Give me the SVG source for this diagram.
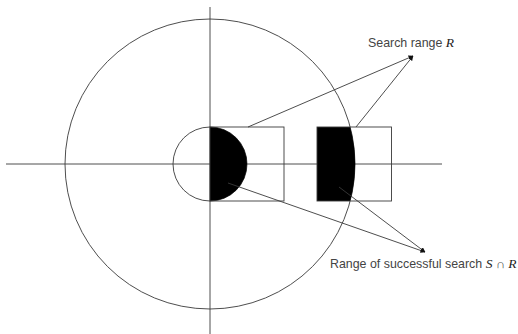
<svg xmlns="http://www.w3.org/2000/svg" width="518" height="334" viewBox="0 0 518 334">
<style>
.ln{stroke:#3a3a3a;stroke-width:0.9;fill:none}
.lbl{font-family:"Liberation Sans","DejaVu Sans",sans-serif;font-size:12.4px;fill:#444}
.m{font-family:"Liberation Serif",serif;font-style:italic;font-size:13.5px;fill:#222}
</style>
<defs>
<marker id="ah" viewBox="0 0 10 10" refX="9" refY="5" markerWidth="5" markerHeight="5" orient="auto" markerUnits="userSpaceOnUse">
<path d="M0,0 L10,5 L0,10 Z" fill="#111"/>
</marker>
</defs>
<rect width="518" height="334" fill="#fff"/>
<g id="axes">
<line class="ln" x1="6" y1="164" x2="442" y2="164"/>
<line class="ln" x1="210" y1="7" x2="210" y2="334"/>
</g>
<g id="outer-circle">
<circle class="ln" cx="210" cy="164" r="145"/>
</g>
<g id="inner-circle">
<circle class="ln" cx="210" cy="164" r="37"/>
<path d="M210,127 A37,37 0 0 1 210,201 Z" fill="#000"/>
</g>
<g id="rect1">
<rect class="ln" x="210" y="127" width="74" height="74"/>
</g>
<g id="rect2">
<path d="M317,127 L350.2,127 A145,145 0 0 1 350.2,201 L317,201 Z" fill="#000"/>
<rect class="ln" x="317" y="127" width="74.5" height="74"/>
</g>
<g id="connectors">
<line class="ln" x1="248" y1="127" x2="413" y2="56" marker-end="url(#ah)"/>
<line class="ln" x1="356" y1="127" x2="413" y2="56" marker-end="url(#ah)"/>
<line class="ln" x1="228" y1="183" x2="425" y2="252" marker-end="url(#ah)"/>
<line class="ln" x1="339" y1="187" x2="425" y2="252" marker-end="url(#ah)"/>
</g>
<g id="label-R">
<text class="lbl" x="368" y="47">Search range <tspan class="m">R</tspan></text>
</g>
<g id="label-SR">
<text class="lbl" x="330" y="268">Range of successful search <tspan class="m">S</tspan> ∩ <tspan class="m">R</tspan></text>
</g>
</svg>
